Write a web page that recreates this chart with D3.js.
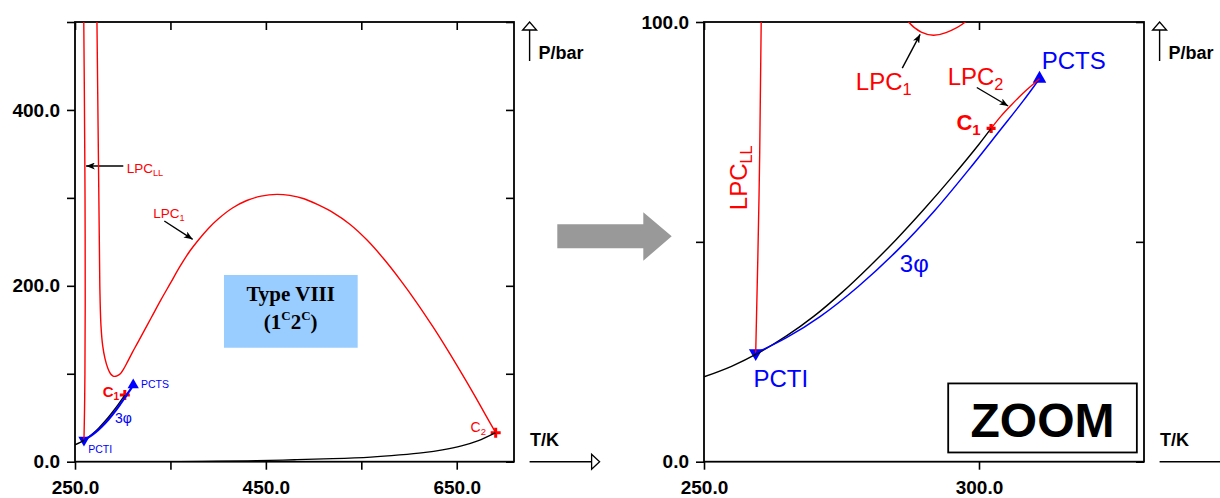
<!DOCTYPE html>
<html><head><meta charset="utf-8">
<script src="https://cdn.jsdelivr.net/npm/d3@7"></script>
<style>
body{margin:0;background:#fff}
svg{display:block}
</style></head>
<body><svg id="c" width="1220" height="498"></svg>
<script>
// ---------------- data (T/K, P/bar) ----------------
const leftTicksX = [250, 350, 450, 550, 650];
const leftLabelsX = [250, 450, 650];
const leftTicksY = [0, 100, 200, 300, 400, 500];
const leftLabelsY = [0, 200, 400];
const rightTicksX = [250, 300];
const rightLabelsX = [250, 300];
const rightTicksY = [0, 50, 100];
const rightLabelsY = [0, 100];

// vapour pressure curve of component 1 (ends at C1)
const vp1 = [[250,19.3],[255,21.7],[260,24.8],[265,28.6],[270,33.1],[275,38.4],[280,44.3],[285,50.6],[290,57.4],[295,64.6],[300,72.2],[302.2,75.8]];
// vapour pressure curve of component 2 (ends at C2)
const vp2 = [[360,0.1],[400,0.5],[440,1.2],[480,2.2],[520,3.4],[560,5.3],[590,7.7],[615,10.3],[635,13.4],[655,17.9],[672,23.6],[690.8,33.0]];
// three phase line (PCTI -> PCTS)
const threePhase = [[259.4,24.7],[265,28.2],[271.1,33.0],[278,39.8],[285.1,48.0],[292,57.2],[298,66.2],[303.9,75.5],[308,82.0],[311,87.1]];
// LPC_LL
const lpcLL = [[259.4,24.7],[260.0,60],[260.4,100],[260.7,180],[260.5,300],[259.8,420],[259.2,500]];
// LPC_1
const lpc1 = [[273.0,500],[273.8,420],[274.6,340],[275.4,260],[276.0,200],[277.2,155],[279.0,132],[281.5,117],[284.5,106],[287.2,100],[289.5,97.7],[291.7,97.0],[294.0,97.6],[297.5,100],[301,105.5],[305,113.5],[310,124],[315,134],[320,144],[330,164],[340,184],[350,203],[360,222],[370,239],[380,253],[390,265.5],[400,276],[415,288.5],[430,297],[445,302],[461.5,304],[475,302.8],[490,299],[505,292],[520,283.5],[538,270],[556,252],[573,231.3],[591,206.5],[608,181],[625,153.5],[640,127.7],[655,100.7],[670,72.8],[680,53.6],[690.8,33]];
// LPC_2 (C1 -> PCTS)
const lpc2 = [[302.2,75.8],[304,78.6],[305.7,80.9],[308,83.8],[311,87.1]];
// special points
const C1 = [302.2, 75.8];
const C2 = [690.8, 33.0];
const PCTS = [311.0, 87.1];
const PCTI = [259.4, 24.7];

// ---------------- drawing ----------------
const SANS = "'Liberation Sans',Arial,Helvetica,sans-serif";
const SERIF = "'Liberation Serif','Times New Roman',serif";
const svg = d3.select("#c").style("font-family", SANS);
const defs = svg.append("defs");
defs.append("marker").attr("id","ah").attr("viewBox","0 0 10 8")
  .attr("refX",10).attr("refY",4).attr("markerWidth",9).attr("markerHeight",7)
  .attr("markerUnits","userSpaceOnUse").attr("orient","auto")
  .append("path").attr("d","M0,0 L10,4 L0,8 L2.5,4 Z").attr("fill","#000");

const RED = "#ff0000", BLUE = "#0000ff";

function panel(cfg){
  const x = d3.scaleLinear().domain(cfg.xDomain).range(cfg.xRange);
  const y = d3.scaleLinear().domain(cfg.yDomain).range(cfg.yRange);
  const left = cfg.xRange[0], right = cfg.xRange[1];
  const top = cfg.yRange[1], bottom = cfg.yRange[0];
  const g = svg.append("g");
  defs.append("clipPath").attr("id", cfg.id).append("rect")
    .attr("x", left).attr("y", top).attr("width", right-left).attr("height", bottom-top);

  const fmt = labels => d => labels.includes(d) ? d.toFixed(1) : "";
  const style = a => { a.select(".domain").remove();
    a.selectAll("line").attr("stroke","#000").attr("stroke-width",1.6);
    a.selectAll("text").style("font-family",SANS)
      .attr("font-weight","bold").attr("font-size",19).attr("fill","#000"); };
  g.append("g").attr("transform",`translate(0,${bottom})`)
    .call(d3.axisBottom(x).tickValues(cfg.xTicks).tickFormat(fmt(cfg.xLabels)).tickSize(8).tickSizeOuter(0).tickPadding(11)).call(style);
  g.append("g").attr("transform",`translate(0,${top})`)
    .call(d3.axisBottom(x).tickValues(cfg.xTicks).tickFormat("").tickSize(8).tickSizeOuter(0)).call(style);
  g.append("g").attr("transform",`translate(${left},0)`)
    .call(d3.axisLeft(y).tickValues(cfg.yTicks).tickFormat(fmt(cfg.yLabels)).tickSize(8).tickSizeOuter(0).tickPadding(7)).call(style);
  g.append("g").attr("transform",`translate(${right},0)`)
    .call(d3.axisLeft(y).tickValues(cfg.yTicks).tickFormat("").tickSize(8).tickSizeOuter(0)).call(style);
  g.append("rect").attr("x",left).attr("y",top).attr("width",right-left).attr("height",bottom-top)
    .attr("fill","none").attr("stroke","#000").attr("stroke-width",1.8);

  // axis titles with arrows
  const ax = right + 15.6;
  g.append("line").attr("x1",ax).attr("x2",ax).attr("y1",top+39).attr("y2",top+8).attr("stroke","#000").attr("stroke-width",1.4);
  g.append("path").attr("d",`M${ax-7},${top+8} L${ax+7},${top+8} L${ax},${top} Z`).attr("fill","#fff").attr("stroke","#000").attr("stroke-width",1.3);
  g.append("text").attr("x",right+24.6).attr("y",top+37.3).text("P/bar").attr("font-weight","bold").attr("font-size",18);
  const ay = bottom;
  g.append("line").attr("x1",ax).attr("x2",ax+62).attr("y1",ay).attr("y2",ay).attr("stroke","#000").attr("stroke-width",1.4);
  g.append("path").attr("d",`M${ax+62},${ay-7.5} L${ax+62},${ay+7.5} L${ax+70},${ay} Z`).attr("fill","#fff").attr("stroke","#000").attr("stroke-width",1.3);
  g.append("text").attr("x",right+16).attr("y",bottom-15.5).text("T/K").attr("font-weight","bold").attr("font-size",18);

  const plot = svg.append("g").attr("clip-path",`url(#${cfg.id})`);
  return {x, y, plot, g};
}

function curve(p, data, color, w){
  const line = d3.line().x(d=>p.x(d[0])).y(d=>p.y(d[1])).curve(d3.curveCatmullRom.alpha(0.5));
  p.plot.append("path").datum(data).attr("d",line).attr("fill","none").attr("stroke",color).attr("stroke-width",w).attr("stroke-linejoin","round");
}
function cross(p, pt, s, w){
  const cx=p.x(pt[0]), cy=p.y(pt[1]);
  p.g.append("path").attr("d",`M${cx-s},${cy} L${cx+s},${cy} M${cx},${cy-s} L${cx},${cy+s}`).attr("stroke",RED).attr("stroke-width",w);
}
function tri(p, pt, size, down){
  p.g.append("path").attr("d", d3.symbol(d3.symbolTriangle, size)())
    .attr("transform",`translate(${p.x(pt[0])},${p.y(pt[1])}) rotate(${down?180:0})`).attr("fill",BLUE);
}
function label(p, T, P, main, sub, color, fs, opts={}){
  const t = p.g.append("text").attr("x",p.x(T)).attr("y",p.y(P)).attr("fill",color).attr("font-size",fs)
    .attr("font-weight",opts.bold?"bold":"normal");
  if(opts.rotate) t.attr("transform",`rotate(-90,${p.x(T)},${p.y(P)})`);
  t.append("tspan").text(main);
  if(sub) t.append("tspan").text(sub).attr("font-size",fs*0.68).attr("dy",fs*0.22);
  return t;
}
function arrow(p, T1, P1, T2, P2){
  p.g.append("line").attr("x1",p.x(T1)).attr("y1",p.y(P1)).attr("x2",p.x(T2)).attr("y2",p.y(P2))
    .attr("stroke","#000").attr("stroke-width",1.4).attr("marker-end","url(#ah)");
}

// ---------- left panel ----------
const L = panel({id:"cl", xDomain:[250,710], xRange:[75,514], yDomain:[0,500], yRange:[461.7,22],
  xTicks:leftTicksX, xLabels:leftLabelsX, yTicks:leftTicksY, yLabels:leftLabelsY});
curve(L, vp2, "#000", 1.3);
curve(L, lpc1, RED, 1.4);
curve(L, lpcLL, RED, 1.4);
curve(L, vp1, "#000", 1.4);
curve(L, threePhase, BLUE, 2.2);
cross(L, C1, 5, 3);
cross(L, C2, 5, 3);
tri(L, PCTS, 55, false);
tri(L, PCTI, 55, true);
label(L, 304.2, 327.9, "LPC", "LL", RED, 13.5);
arrow(L, 300.6, 336.2, 261.6, 336.2);
label(L, 332, 276.8, "LPC", "1", RED, 13.5);
arrow(L, 343.6, 273.7, 373.3, 252.9);
label(L, 279, 73.9, "C", "1", RED, 15, {bold:true});
label(L, 319.2, 83.8, "PCTS", null, BLUE, 10.5);
label(L, 263.9, 10.2, "PCTI", null, BLUE, 10.5);
label(L, 291.9, 44.3, "3φ", null, BLUE, 14);
label(L, 664.5, 34.1, "C", "2", RED, 14);
// Type VIII box
L.g.append("rect").attr("x",L.x(406.1)).attr("y",L.y(212.3)).attr("width",L.x(546.2)-L.x(406.1)).attr("height",L.y(129.6)-L.y(212.3)).attr("fill","#99ccff");
L.g.append("text").attr("x",L.x(476)).attr("y",L.y(182.7)).attr("text-anchor","middle")
  .style("font-family",SERIF).attr("font-weight","bold").attr("font-size",21).text("Type VIII");
const tv2 = L.g.append("text").attr("x",L.x(476)).attr("y",L.y(150.6)).attr("text-anchor","middle")
  .style("font-family",SERIF).attr("font-weight","bold").attr("font-size",21);
tv2.append("tspan").text("(1");
tv2.append("tspan").text("C").attr("font-size",13).attr("dy",-9);
tv2.append("tspan").text("2").attr("dy",9);
tv2.append("tspan").text("C").attr("font-size",13).attr("dy",-9);
tv2.append("tspan").text(")").attr("dy",9);

// ---------- big gray arrow ----------
svg.append("path").attr("d","M557.3,224.3 L643.3,224.3 L643.3,212.3 L671.7,236.3 L643.3,260.7 L643.3,248.3 L557.3,248.3 Z").attr("fill","#999999");

// ---------- right panel ----------
const R = panel({id:"cr", xDomain:[250,330], xRange:[704,1144], yDomain:[0,100], yRange:[461.7,22],
  xTicks:rightTicksX, xLabels:rightLabelsX, yTicks:rightTicksY, yLabels:rightLabelsY});
curve(R, lpc1, RED, 1.4);
curve(R, lpcLL, RED, 1.4);
curve(R, vp1, "#000", 1.4);
curve(R, threePhase, BLUE, 1.5);
curve(R, lpc2, RED, 1.4);
cross(R, C1, 4.5, 3.2);
tri(R, PCTS, 80, false);
tri(R, PCTI, 80, true);
label(R, 257.8, 57.2, "LPC", "LL", RED, 24, {rotate:true});
label(R, 277.6, 84.5, "LPC", "1", RED, 24);
arrow(R, 286.05, 89.5, 289.3, 97.2);
label(R, 294.3, 85.7, "LPC", "2", RED, 24);
arrow(R, 299.6, 85.1, 305.3, 80.9);
label(R, 311.4, 89.2, "PCTS", null, BLUE, 24);
label(R, 295.9, 75.4, "C", "1", RED, 22, {bold:true});
label(R, 285.6, 43.2, "3φ", null, BLUE, 24);
label(R, 259.0, 17.1, "PCTI", null, BLUE, 24);
// ZOOM box
R.g.append("rect").attr("x",R.x(294.4)).attr("y",R.y(17.8)).attr("width",R.x(328.7)-R.x(294.4)).attr("height",R.y(2.1)-R.y(17.8))
  .attr("fill","#fff").attr("stroke","#000").attr("stroke-width",1.8);
R.g.append("text").attr("x",(R.x(294.4)+R.x(328.7))/2).attr("y",R.y(5.6)).attr("text-anchor","middle")
  .attr("font-weight","bold").attr("font-size",48).text("ZOOM");
</script></body></html>
